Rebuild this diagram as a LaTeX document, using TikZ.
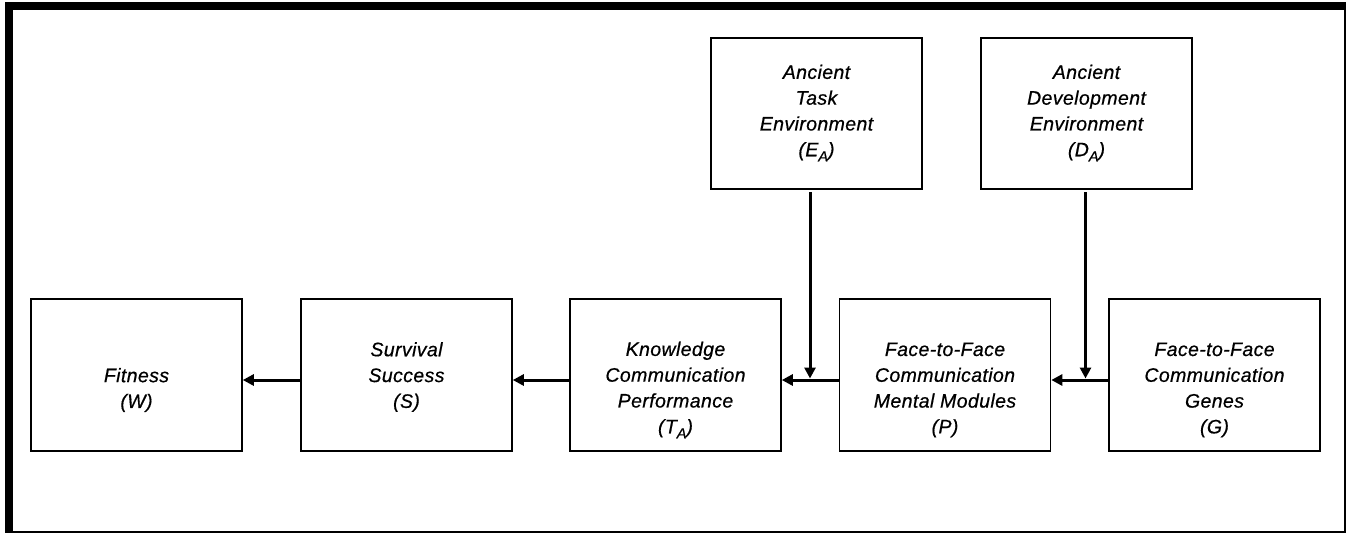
\documentclass[tikz,border=0pt]{standalone}
\usepackage{fontspec}
\setmainfont[LetterSpace=2,FakeBold=0.6]{Liberation Sans}
\usetikzlibrary{arrows.meta}
\newcommand{\sub}[1]{\raisebox{-5pt}{\fontsize{14.5}{14.5}\selectfont #1}}
\tikzset{
  box/.style={draw, line width=1.6pt, minimum width=211pt, minimum height=152pt, inner sep=0pt},
  txt/.style={align=center, inner sep=0pt, font=\fontsize{19.5}{25.8}\selectfont\itshape},
  arr/.style={line width=3pt, -{Triangle[length=11pt,width=11pt]}},
}
\begin{document}
\begin{tikzpicture}[x=1pt,y=-1pt]
\useasboundingbox (0,0) rectangle (1348,533);
% frame: heavy top and left edges, light right and bottom edges
\fill (5,2) rectangle (1346,10);
\fill (5,2) rectangle (13,533);
\fill (1343.8,2) rectangle (1346,533);
\fill (5,530.8) rectangle (1346,532.5);

% boxes
\node[box] (W) at (136.5,375) {};
\node[box] (S) at (406.5,375) {};
\node[box] (T) at (675.5,375) {};
\node[box] (P) at (945,375) {};
\node[box] (G) at (1214.5,375) {};
\node[box, minimum height=151pt] (E) at (816.5,113.5) {};
\node[box, minimum height=151pt] (D) at (1086.5,113.5) {};

% labels
\node[txt] (Wt) at (136.5,390) {Fitness\\(W)};
\node[txt] (St) at (406.5,377) {Survival\\Success\\(S)};
\node[txt] (Tt) at (675.5,390) {Knowledge\\Communication\\Performance\\(T\sub{A})};
\node[txt] (Pt) at (945,390) {Face-to-Face\\Communication\\Mental Modules\\(P)};
\node[txt] (Gt) at (1214.5,390) {Face-to-Face\\Communication\\Genes\\(G)};
\node[txt] (Et) at (816.5,113) {Ancient\\Task\\Environment\\(E\sub{A})};
\node[txt] (Dt) at (1086.5,113) {Ancient\\Development\\Environment\\(D\sub{A})};

% level of the horizontal chain and the two junctions
\coordinate (ay) at (0,380);
\coordinate (jE) at (810,380);
\coordinate (jD) at (1085.5,380);

% horizontal chain
\draw[arr] (S.west |- ay) -- (W.east |- ay);
\draw[arr] (T.west |- ay) -- (S.east |- ay);
\draw[arr] (P.west |- ay) -- (T.east |- ay);
\draw[arr] (G.west |- ay) -- (P.east |- ay);

% environments feeding in from above
\draw[arr] ([yshift=-2.5pt]E.south -| jE) -- ([yshift=1.5pt]jE);
\draw[arr] ([yshift=-2.5pt]D.south -| jD) -- ([yshift=1.5pt]jD);
\end{tikzpicture}
\end{document}
